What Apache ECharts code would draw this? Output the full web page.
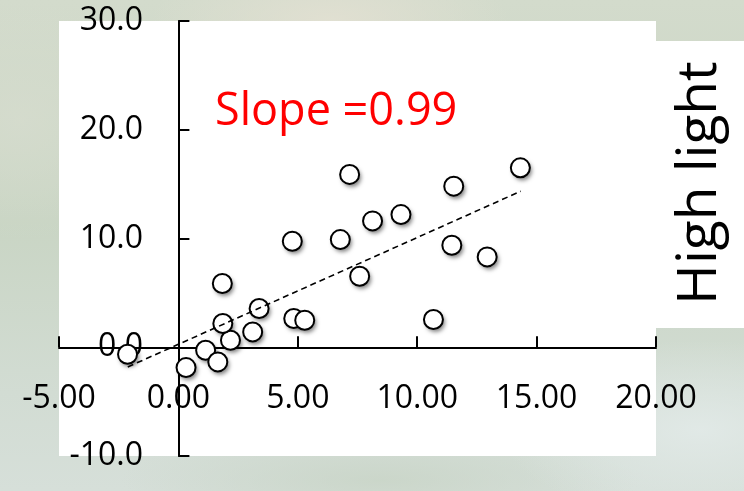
<!DOCTYPE html>
<html>
<head>
<meta charset="utf-8">
<title>High light – slope</title>
<script src="https://cdn.jsdelivr.net/npm/echarts@6/dist/echarts.min.js"></script>
<style>
  html, body { margin: 0; padding: 0; }
  body {
    width: 744px; height: 491px; overflow: hidden;
    background:
      radial-gradient(ellipse 180px 60px at 330px 20px, rgba(226,224,210,0.9), rgba(226,224,210,0) 100%),
      radial-gradient(ellipse 140px 120px at 20px 120px, rgba(214,220,206,0.8), rgba(214,220,206,0) 100%),
      radial-gradient(ellipse 200px 90px at 700px 430px, rgba(226,234,232,0.9), rgba(226,234,232,0) 100%),
      radial-gradient(ellipse 260px 50px at 380px 480px, rgba(200,212,198,0.8), rgba(200,212,198,0) 100%),
      linear-gradient(180deg, #d3dbcc 0%, #c9d5c4 45%, #d2dcd3 80%, #d6dfd9 100%);
  }
  #chart { width: 744px; height: 491px; }
</style>
</head>
<body>
<div id="chart"></div>
<script>
// Paired measurements (x, y)
const xValues = [-2.13, 0.32, 1.14, 1.65, 2.18, 1.86, 1.84, 3.11, 3.38, 4.83, 5.29,
                 4.77, 6.78, 7.17, 8.13, 9.32, 7.59, 11.53, 11.45, 12.93, 14.32, 10.68];
const yValues = [-0.64, -1.87, -0.28, -1.35, 0.64, 2.18, 5.86, 1.41, 3.56, 2.64, 2.48,
                 9.75, 9.90, 15.89, 11.62, 12.20, 6.53, 14.81, 9.38, 8.31, 16.50, 2.55];

// Fitted trend line end points
const trendX = [-2.12, 14.34];
const trendY = [-1.81, 14.35];

const slopeLabel = 'Slope =0.99';
const sideLabel = 'High light';

const xTicks = { min: -5, max: 20, step: 5 };
const yTicks = { min: -10, max: 30, step: 10 };

const points = xValues.map((x, i) => [x, yValues[i]]);
const trend = trendX.map((x, i) => [x, trendY[i]]);

const FONT = '"Open Sans", "Noto Sans", sans-serif';

const chart = echarts.init(document.getElementById('chart'), null, { renderer: 'canvas' });

chart.setOption({
  backgroundColor: 'transparent',
  animation: false,
  textStyle: { fontFamily: FONT },
  grid: {
    left: 59, right: 88, top: 21, bottom: 35,
    containLabel: false,
    outerBoundsMode: 'none',
    show: true, backgroundColor: '#ffffff', borderWidth: 0
  },
  graphic: [
    {
      type: 'rect',
      shape: { x: 656, y: 41, width: 88, height: 287 },
      style: { fill: '#ffffff' },
      z: -1
    },
    {
      type: 'text',
      x: 215, y: 112,
      style: {
        text: slopeLabel,
        fill: '#ff0000',
        font: '45px ' + FONT,
        textAlign: 'left',
        textVerticalAlign: 'middle'
      },
      z: 10
    },
    {
      type: 'text',
      x: 700, y: 183,
      rotation: Math.PI / 2,
      style: {
        text: sideLabel,
        fill: '#000000',
        font: '55px ' + FONT,
        textAlign: 'center',
        textVerticalAlign: 'middle'
      },
      z: 10
    }
  ],
  xAxis: {
    type: 'value',
    min: xTicks.min, max: xTicks.max, interval: xTicks.step,
    axisLine: { show: true, onZero: true, lineStyle: { color: '#000', width: 2 } },
    axisTick: { show: true, inside: true, length: 11, lineStyle: { color: '#000', width: 2 } },
    // labels sit just under the zero line rather than under the grid edge
    axisLabel: {
      show: true, margin: -73, color: '#000', fontSize: 32, fontFamily: FONT,
      hideOverlap: false,
      formatter: v => v.toFixed(2)
    },
    splitLine: { show: false }
  },
  yAxis: {
    type: 'value',
    min: yTicks.min, max: yTicks.max, interval: yTicks.step,
    axisLine: { show: true, onZero: true, lineStyle: { color: '#000', width: 2 } },
    axisTick: { show: true, inside: true, length: 11, lineStyle: { color: '#000', width: 2 } },
    // labels sit just left of the zero line rather than left of the grid edge
    axisLabel: {
      show: true, margin: -84, color: '#000', fontSize: 32, fontFamily: FONT,
      hideOverlap: false,
      formatter: v => v.toFixed(1)
    },
    splitLine: { show: false }
  },
  series: [
    // soft drop shadow beneath each marker
    {
      type: 'scatter',
      data: points,
      symbol: 'circle',
      symbolSize: 19,
      silent: true,
      itemStyle: {
        color: '#ffffff',
        opacity: 1,
        borderWidth: 0,
        shadowColor: 'rgba(0,0,0,0.5)',
        shadowBlur: 4,
        shadowOffsetX: 2,
        shadowOffsetY: 3
      },
      z: 1
    },
    // open circle markers
    {
      type: 'scatter',
      data: points,
      symbol: 'circle',
      symbolSize: 19,
      itemStyle: {
        color: '#ffffff',
        opacity: 1,
        borderColor: '#000000',
        borderWidth: 2
      },
      z: 2
    },
    {
      type: 'line',
      data: trend,
      symbol: 'none',
      lineStyle: { color: '#000000', width: 1.6, type: [6, 4] },
      z: 3
    }
  ]
});
</script>
</body>
</html>
